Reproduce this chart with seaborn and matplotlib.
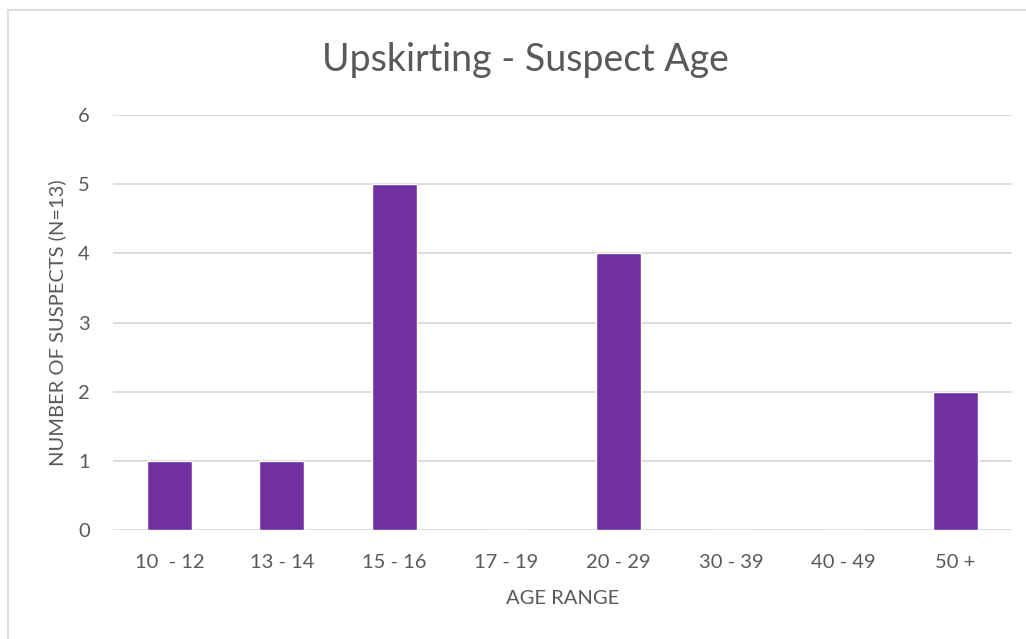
import matplotlib
matplotlib.use("Agg")
import matplotlib.pyplot as plt
import seaborn as sns
import pandas as pd
from matplotlib.lines import Line2D

categories = ["10  - 12", "13 - 14", "15 - 16", "17 - 19", "20 - 29", "30 - 39", "40 - 49", "50 +"]
suspects = [1, 1, 5, 0, 4, 0, 0, 2]
yticks = [0, 1, 2, 3, 4, 5, 6]

df = pd.DataFrame({"age": categories, "n": suspects})

sns.set_theme(style="white")
plt.rcParams['font.family'] = ['Lato', 'DejaVu Sans']
txt = "#595959"

fig = plt.figure(figsize=(10.26, 6.39), dpi=100)
ax = fig.add_axes([0.1105, 0.1706, 0.8755, 0.6494])
sns.barplot(data=df, x="age", y="n", color="#7030A0", width=0.4, saturation=1, ax=ax)
ax.set_ylim(0, 6)
ax.set_xlim(-0.5, 7.5)
ax.set_yticks(yticks)
ax.yaxis.grid(True, color="#d9d9d9", linewidth=1.3)
ax.set_axisbelow(True)
for s in ax.spines.values():
    s.set_visible(False)
ax.tick_params(axis="both", length=0, colors=txt, labelsize=14.5)
ax.tick_params(axis="y", pad=17)
ax.tick_params(axis="x", pad=17)
ax.set_xlabel("AGE RANGE", color=txt, fontsize=14.5)
ax.set_ylabel("NUMBER OF SUSPECTS (N=13)", color=txt, fontsize=14.5)
ax.xaxis.set_label_coords(0.5, -0.164)
ax.yaxis.set_label_coords(-0.0624, 0.5)
ax.xaxis.label.set_va("center")
ax.yaxis.label.set_va("center")
fig.text(0.512, 0.906, "Upskirting - Suspect Age", ha="center", va="center", color=txt, fontsize=27)

# chart border (left and top visible)
fig.add_artist(Line2D([0.008, 0.008], [0.0, 0.984], transform=fig.transFigure, color="#d9d9d9", lw=1.3))
fig.add_artist(Line2D([0.008, 1.0], [0.984, 0.984], transform=fig.transFigure, color="#d9d9d9", lw=1.3))

fig.savefig("out.png", dpi=100)
